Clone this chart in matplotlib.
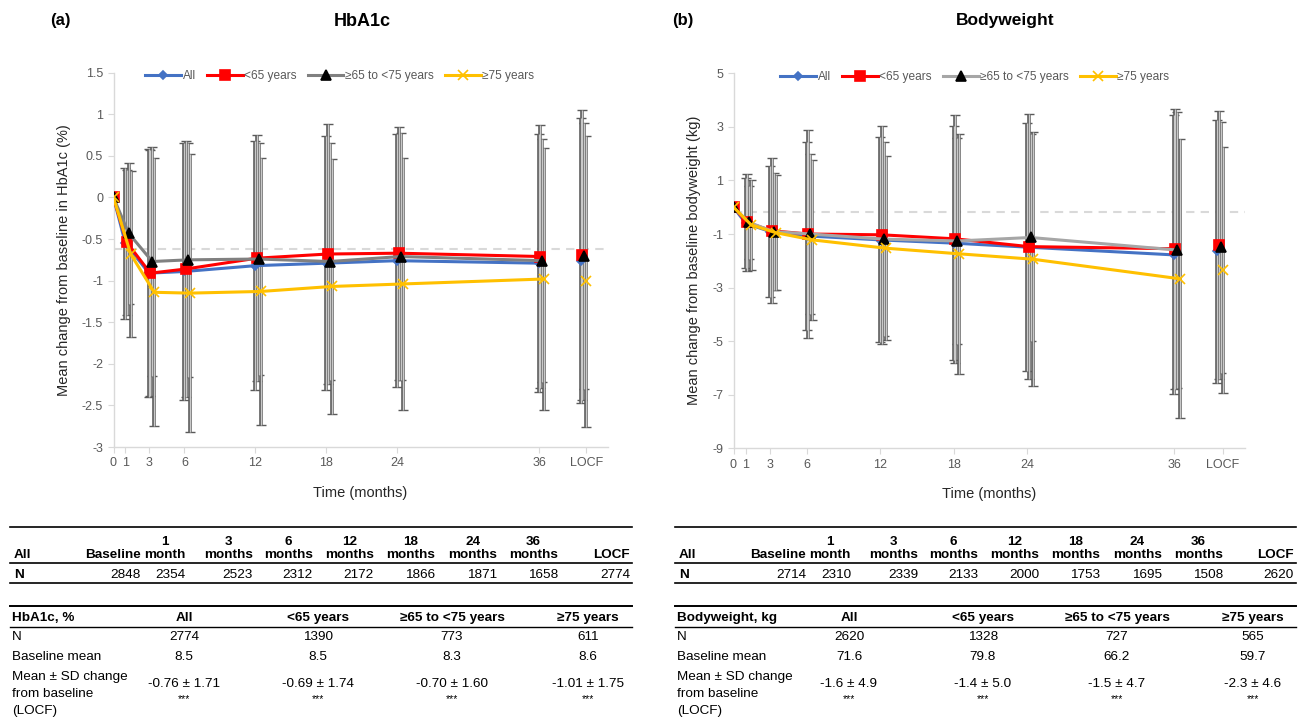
import matplotlib
matplotlib.use("Agg")
import matplotlib.pyplot as plt

plt.rcParams["font.family"] = ["Liberation Sans", "DejaVu Sans"]

# ---- data ----
months = [0, 1, 3, 6, 12, 18, 24, 36]
locf_x = 40
tick_pos = [0, 1, 3, 6, 12, 18, 24, 36, 40]
tick_labels = ["0", "1", "3", "6", "12", "18", "24", "36", "LOCF"]
groups = ["All", "<65 years", "≥65 to <75 years", "≥75 years"]

# HbA1c mean change (%) by visit, LOCF separately
hba_all = [0, -0.55, -0.91, -0.89, -0.82, -0.79, -0.76, -0.79]
hba_lt65 = [0, -0.54, -0.91, -0.86, -0.73, -0.68, -0.67, -0.71]
hba_65_75 = [0, -0.43, -0.77, -0.75, -0.74, -0.77, -0.71, -0.76]
hba_ge75 = [0, -0.68, -1.14, -1.15, -1.13, -1.07, -1.04, -0.98]
hba_locf = [-0.76, -0.69, -0.70, -1.01]
# SDs (baseline excluded)
hba_sd_all = [0.91, 1.49, 1.54, 1.50, 1.53, 1.52, 1.55]
hba_sd_lt65 = [0.87, 1.48, 1.54, 1.48, 1.56, 1.52, 1.58]
hba_sd_65_75 = [0.85, 1.38, 1.41, 1.39, 1.43, 1.48, 1.46]
hba_sd_ge75 = [1.00, 1.61, 1.67, 1.60, 1.53, 1.52, 1.58]
hba_locf_sd = [1.71, 1.74, 1.60, 1.75]

# Bodyweight mean change (kg)
bw_all = [0, -0.60, -0.91, -1.07, -1.22, -1.34, -1.49, -1.78]
bw_lt65 = [0, -0.57, -0.88, -1.00, -1.03, -1.18, -1.47, -1.55]
bw_65_75 = [0, -0.57, -0.91, -1.00, -1.19, -1.26, -1.13, -1.60]
bw_ge75 = [0, -0.66, -0.95, -1.22, -1.53, -1.74, -1.94, -2.67]
bw_locf = [-1.65, -1.40, -1.50, -2.34]
bw_sd_all = [1.68, 2.46, 3.51, 3.83, 4.38, 4.62, 5.21]
bw_sd_lt65 = [1.82, 2.71, 3.90, 4.08, 4.63, 4.95, 5.22]
bw_sd_65_75 = [1.37, 2.19, 3.00, 3.62, 3.86, 3.85, 5.15]
bw_sd_ge75 = [1.68, 2.14, 3.00, 3.43, 4.47, 4.75, 5.20]
bw_locf_sd = [4.9, 5.0, 4.7, 4.6]

# tables
t1_cols = ["Baseline", "1\nmonth", "3\nmonths", "6\nmonths", "12\nmonths",
           "18\nmonths", "24\nmonths", "36\nmonths", "LOCF"]
hba_visit_n = ["2848", "2354", "2523", "2312", "2172", "1866", "1871", "1658", "2774"]
bw_visit_n = ["2714", "2310", "2339", "2133", "2000", "1753", "1695", "1508", "2620"]
hba_grp_n = ["2774", "1390", "773", "611"]
hba_base = ["8.5", "8.5", "8.3", "8.6"]
hba_change = ["-0.76 ± 1.71", "-0.69 ± 1.74", "-0.70 ± 1.60", "-1.01 ± 1.75"]
bw_grp_n = ["2620", "1328", "727", "565"]
bw_base = ["71.6", "79.8", "66.2", "59.7"]
bw_change = ["-1.6 ± 4.9", "-1.4 ± 5.0", "-1.5 ± 4.7", "-2.3 ± 4.6"]

W, H = 1298, 717
fig = plt.figure(figsize=(W / 100, H / 100), dpi=100)


def fx(x):
    return x / W


def fy(y):
    return 1 - y / H


colors = ["#4472C4", "#FF0000", "#808080", "#FFC000"]
markers = ["D", "s", "^", "x"]
msizes = [4, 7, 7, 7]
offsets = [0.0, 0.12, 0.28, 0.45]


def draw_chart(ax, series, sds, locf, locf_sd, ylim, yticks, dash_y, ylabel, grey, leg_x):
    cols = list(colors)
    cols[2] = grey
    for i in range(4):
        xs = [m + offsets[i] for m in months[1:]] + [locf_x + offsets[i] - 0.45]
        ys = list(series[i][1:]) + [locf[i]]
        es = list(sds[i]) + [locf_sd[i]]
        ax.errorbar(xs, ys, yerr=es, fmt="none", ecolor="#5a5a5a", elinewidth=2.6,
                    capsize=3.5, capthick=1.0, zorder=1)
        ax.errorbar(xs, ys, yerr=es, fmt="none", ecolor="#c9c9c9", elinewidth=1.0,
                    capsize=0, zorder=1.5)
    ax.axhline(dash_y, color="#d9d9d9", lw=1.5, ls=(0, (4, 3)), zorder=0.5)
    for i in range(4):
        xs = [m + offsets[i] if m > 0 else 0 for m in months]
        fc = "black" if i == 2 else cols[i]
        ax.plot(xs, series[i], color=cols[i], lw=2.2, marker=markers[i], ms=msizes[i],
                mfc=fc, mec=fc, mew=1.2, label=groups[i], zorder=3 + i)
        ax.plot([locf_x + offsets[i] - 0.45], [locf[i]], ls="none", marker=markers[i],
                ms=msizes[i], mfc=fc, mec=fc, mew=1.2, zorder=3 + i)
    ax.set_xlim(0, 41.8)
    ax.set_ylim(*ylim)
    ax.set_yticks(yticks)
    ax.set_yticklabels([f"{t:g}" for t in yticks])
    ax.set_xticks(tick_pos)
    ax.set_xticklabels(tick_labels)
    for s in ["top", "right"]:
        ax.spines[s].set_visible(False)
    for s in ["left", "bottom"]:
        ax.spines[s].set_color("#d9d9d9")
        ax.spines[s].set_linewidth(1.0)
    ax.tick_params(colors="#d9d9d9", labelcolor="#595959", labelsize=9, length=4)
    ax.set_ylabel(ylabel, fontsize=10.5, color="#262626", labelpad=8)
    ax.set_xlabel("Time (months)", fontsize=10.5, color="#262626", labelpad=12)
    leg = ax.legend(loc="upper center", bbox_to_anchor=(leg_x, 1.035), ncol=4, frameon=False,
                    fontsize=8.6, handlelength=3.0, columnspacing=0.9, handletextpad=0.15)
    for t in leg.get_texts():
        t.set_color("#595959")


ax1 = fig.add_axes([fx(113.5), fy(447), fx(607.6) - fx(113.5), fy(72.7) - fy(447)])
draw_chart(ax1, [hba_all, hba_lt65, hba_65_75, hba_ge75],
           [hba_sd_all, hba_sd_lt65, hba_sd_65_75, hba_sd_ge75],
           hba_locf, hba_locf_sd, (-3, 1.5), [-3, -2.5, -2, -1.5, -1, -0.5, 0, 0.5, 1, 1.5],
           -0.62, "Mean change from baseline in HbA1c (%)", "#808080", 0.458)

ax2 = fig.add_axes([fx(733.5), fy(448.3), fx(1245) - fx(733.5), fy(73.3) - fy(448.3)])
draw_chart(ax2, [bw_all, bw_lt65, bw_65_75, bw_ge75],
           [bw_sd_all, bw_sd_lt65, bw_sd_65_75, bw_sd_ge75],
           bw_locf, bw_locf_sd, (-9, 5), [-9, -7, -5, -3, -1, 1, 3, 5],
           -0.18, "Mean change from baseline bodyweight (kg)", "#A6A6A6", 0.472)

fig.text(fx(60), fy(20), "(a)", fontsize=12, fontweight="bold", ha="center", va="center")
fig.text(fx(683), fy(20), "(b)", fontsize=12, fontweight="bold", ha="center", va="center")
fig.text(fx(362), fy(21), "HbA1c", fontsize=13, fontweight="bold", ha="center", va="center")
fig.text(fx(1005), fy(21), "Bodyweight", fontsize=12.5, fontweight="bold", ha="center", va="center")


def hline(x0, x1, y, lw=1.0):
    fig.add_artist(plt.Line2D([fx(x0), fx(x1)], [fy(y), fy(y)], color="black", lw=lw))


def draw_tables(dx, x1, visit_n, t2_title, grp_n, base, change):
    tx = dict(fontsize=9.7)
    right_edges = [141, 186, 253, 313, 374, 435, 497, 558, 630]
    hline(10 + dx, x1, 527, 1.2)
    hline(10 + dx, x1, 563, 1.2)
    hline(10 + dx, x1, 583, 1.2)
    fig.text(fx(14 + dx), fy(555), "All", fontweight="bold", va="center", ha="left", **tx)
    fig.text(fx(14 + dx), fy(575), "N", fontweight="bold", va="center", ha="left", **tx)
    for re, col, n in zip(right_edges, t1_cols, visit_n):
        re = re + dx if re < 600 else x1 - 2
        fig.text(fx(re), fy(561), col, fontweight="bold", ha="right", va="bottom",
                 multialignment="center", linespacing=1.1, **tx)
        fig.text(fx(re), fy(575), n, ha="right", va="center", **tx)
    hline(10 + dx, x1, 606, 1.4)
    hline(10 + dx, x1, 627, 1.0)
    centers = [184, 318, 452, 588]
    fig.text(fx(12 + dx), fy(618), t2_title, fontweight="bold", va="center", ha="left", **tx)
    fig.text(fx(12 + dx), fy(637), "N", va="center", ha="left", **tx)
    fig.text(fx(12 + dx), fy(657), "Baseline mean", va="center", ha="left", **tx)
    fig.text(fx(12 + dx), fy(677), "Mean ± SD change", va="center", ha="left", **tx)
    fig.text(fx(12 + dx), fy(694), "from baseline", va="center", ha="left", **tx)
    fig.text(fx(12 + dx), fy(711), "(LOCF)", va="center", ha="left", **tx)
    for c, g, n, b, ch in zip(centers, groups, grp_n, base, change):
        fig.text(fx(c + dx), fy(618), g, fontweight="bold", ha="center", va="center", **tx)
        fig.text(fx(c + dx), fy(637), n, ha="center", va="center", **tx)
        fig.text(fx(c + dx), fy(657), b, ha="center", va="center", **tx)
        fig.text(fx(c + dx), fy(684), ch, ha="center", va="center", **tx)
        fig.text(fx(c + dx), fy(699), "***", ha="center", va="center", fontsize=7.5)


draw_tables(0, 632, hba_visit_n, "HbA1c, %", hba_grp_n, hba_base, hba_change)
draw_tables(665, 1296, bw_visit_n, "Bodyweight, kg", bw_grp_n, bw_base, bw_change)

fig.savefig("out.png", dpi=100)
